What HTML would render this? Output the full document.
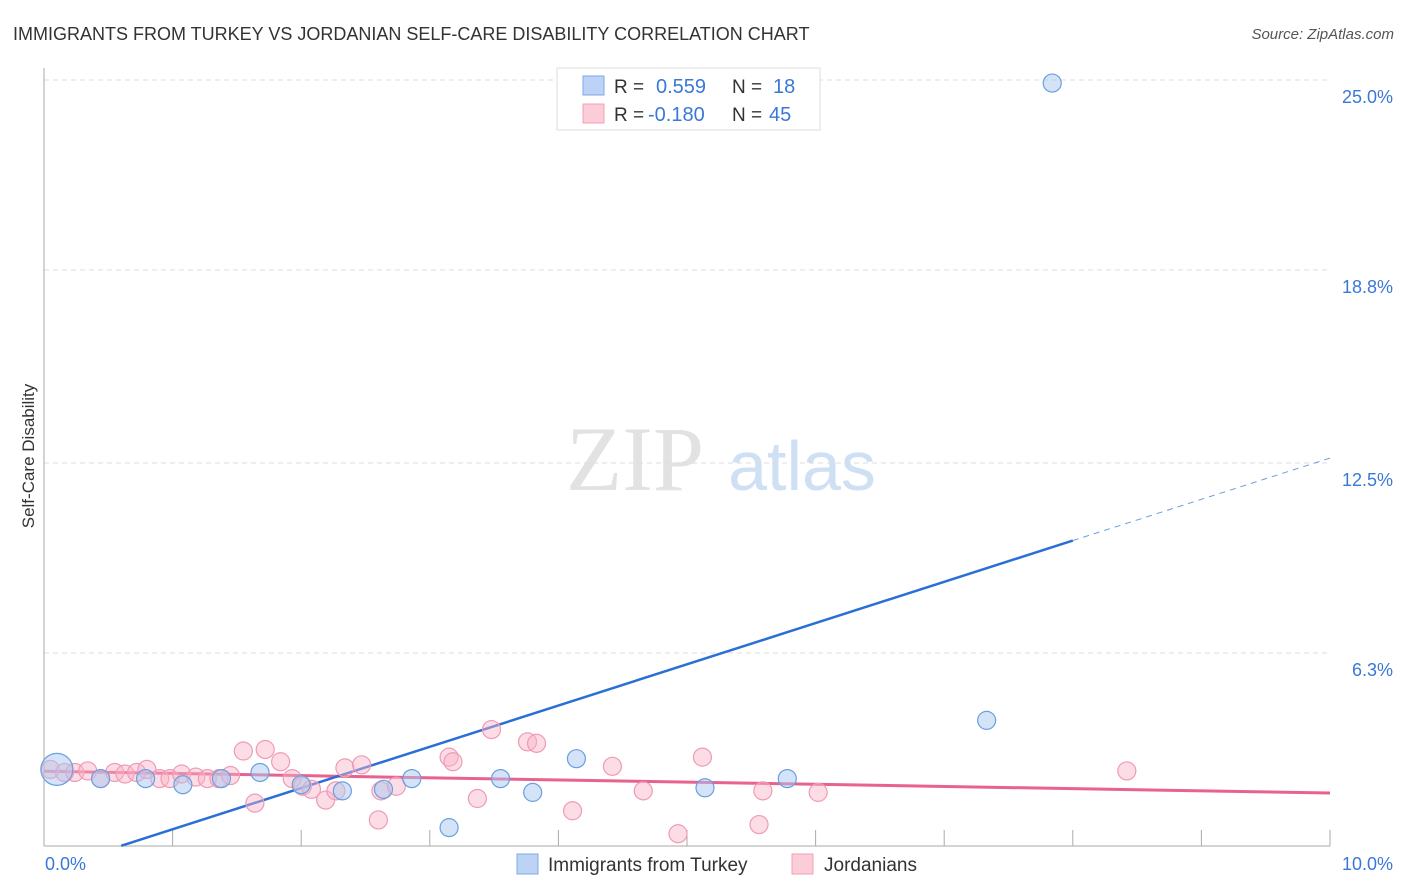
<!DOCTYPE html>
<html><head><meta charset="utf-8"><style>
body{margin:0;background:#fff;font-family:"Liberation Sans",sans-serif;}
svg{display:block}
</style></head><body>
<svg id="chart" width="1406" height="892" viewBox="0 0 1406 892" xmlns="http://www.w3.org/2000/svg">
<text x="13" y="40" font-size="18" fill="#333">IMMIGRANTS FROM TURKEY VS JORDANIAN SELF-CARE DISABILITY CORRELATION CHART</text>
<text x="1394" y="39" font-size="15" fill="#555" font-style="italic" text-anchor="end">Source: ZipAtlas.com</text>
<text transform="translate(34,456) rotate(-90)" font-size="17" fill="#333" text-anchor="middle">Self-Care Disability</text>
<g>
<text x="635" y="490" font-size="92" font-family="Liberation Serif,serif" fill="#e2e2e2" text-anchor="middle">ZIP</text>
<text x="802" y="490" font-size="70" fill="#cfe0f5" text-anchor="middle">atlas</text>
</g>
<g id="grid"></g><g id="axes"></g><g id="lines"></g><g id="pts"></g>
<g>
<rect x="557" y="68" width="263" height="62" fill="#fff" stroke="#ddd"/>
<rect x="583" y="76" width="21" height="19" fill="#bcd3f5" stroke="#7ea8e6"/>
<rect x="583" y="104" width="21" height="19" fill="#fcccd9" stroke="#f0a0b8"/>
<text x="614" y="93" font-size="19" fill="#333">R =</text><text x="656" y="93" font-size="20" fill="#3a78d8">0.559</text>
<text x="732" y="93" font-size="19" fill="#333">N =</text><text x="773" y="93" font-size="20" fill="#3a78d8">18</text>
<text x="614" y="121" font-size="19" fill="#333">R =</text><text x="648" y="121" font-size="20" fill="#3a78d8">-0.180</text>
<text x="732" y="121" font-size="19" fill="#333">N =</text><text x="769" y="121" font-size="20" fill="#3a78d8">45</text>
</g>
<g>
<rect x="517" y="854" width="21" height="20" fill="#bcd3f5" stroke="#7ea8e6"/>
<text x="548" y="871" font-size="19" fill="#333">Immigrants from Turkey</text>
<rect x="792" y="854" width="21" height="20" fill="#fcccd9" stroke="#f0a0b8"/>
<text x="824" y="871" font-size="19" fill="#333">Jordanians</text>
</g>
</svg>
<script>
const yTicks=[25.0,18.8,12.5,6.3];
const yTickLabels=["25.0%","18.8%","12.5%","6.3%"];
const xTickLabels=["0.0%","10.0%"];
const turkeyX=[0.10,0.44,0.79,1.08,1.38,1.68,2.0,2.32,2.64,2.86,3.15,3.55,3.80,4.14,5.14,5.78,7.33,7.84];
const turkeyY=[2.5,2.2,2.2,2.0,2.2,2.4,2.0,1.8,1.85,2.2,0.6,2.2,1.75,2.85,1.9,2.2,4.1,24.9];
const jordX=[0.05,0.16,0.24,0.34,0.44,0.55,0.63,0.72,0.80,0.90,0.98,1.07,1.18,1.27,1.36,1.45,1.55,1.64,1.72,1.84,1.93,2.01,2.08,2.19,2.27,2.34,2.47,2.60,2.62,2.74,3.15,3.18,3.37,3.48,3.76,3.83,4.11,4.42,4.66,4.93,5.12,5.56,5.59,6.02,8.42];
const jordY=[2.5,2.4,2.4,2.45,2.2,2.4,2.35,2.4,2.5,2.2,2.2,2.35,2.25,2.2,2.2,2.3,3.1,1.4,3.15,2.75,2.2,1.95,1.85,1.5,1.8,2.55,2.65,0.85,1.8,1.95,2.9,2.75,1.55,3.8,3.4,3.35,1.15,2.6,1.8,0.4,2.9,0.7,1.8,1.75,2.45];
const turkeyBig=[1,0,0,0,0,0,0,0,0,0,0,0,0,0,0,0,0,0];
const blueLine=[-0.8,12.66];
const pinkLine=[2.44,1.73];
const X0=44,X1=1330,Y0=846,Y1=80;
const sx=v=>X0+(X1-X0)*v/10;
const sy=v=>Y0-(Y0-Y1)*v/25;
const NS="http://www.w3.org/2000/svg";
function mk(tag,attrs,parent){const e=document.createElementNS(NS,tag);for(const k in attrs)e.setAttribute(k,attrs[k]);document.getElementById(parent).appendChild(e);return e;}
yTicks.forEach((t,i)=>{
 const g=mk('line',{x1:X0,x2:X1,y1:sy(t),y2:sy(t),stroke:'#ddd','stroke-dasharray':'5,4'},'grid');
 
 
 const l=mk('text',{x:1393,y:sy(t)+23,'font-size':18,fill:'#3a78d8','text-anchor':'end'},'grid');
 l.textContent=yTickLabels[i];
 
 
});
const ya=mk('line',{x1:X0,x2:X0,y1:68,y2:Y0,stroke:'#aaa'},'axes');


const xa=mk('line',{x1:X0,x2:X1,y1:Y0,y2:Y0,stroke:'#aaa'},'axes');


for(let i=1;i<=10;i++){
 const t=mk('line',{x1:sx(i),x2:sx(i),y1:Y0-16,y2:Y0,stroke:'#aaa'},'axes');
 
 
}
xTickLabels.forEach((s,i)=>{
 const l=mk('text',{x:i?1393:45,y:870,'font-size':18,fill:'#3a78d8','text-anchor':i?'end':'start'},'axes');
 l.textContent=s;
 
 
});
const pl=mk('line',{x1:sx(0),y1:sy(pinkLine[0]),x2:sx(10),y2:sy(pinkLine[1]),stroke:'#e8628e','stroke-width':3},'lines');


const bx0=0.6,bx1=8.0;
const by=x=>blueLine[0]+(blueLine[1]-blueLine[0])*x/10;
const bl=mk('line',{x1:sx(bx0),y1:sy(by(bx0)),x2:sx(bx1),y2:sy(by(bx1)),stroke:'#2a6fd6','stroke-width':2.5},'lines');


const bd=mk('line',{x1:sx(bx1),y1:sy(by(bx1)),x2:sx(10),y2:sy(by(10)),stroke:'#6a9fe0','stroke-width':1,'stroke-dasharray':'6,5'},'lines');


jordX.forEach((x,i)=>{
 const c=mk('circle',{cx:sx(x),cy:sy(jordY[i]),r:9,fill:'rgba(248,180,200,0.45)',stroke:'#f09ab5','stroke-width':1.2},'pts');
 
 
});
turkeyX.forEach((x,i)=>{
 const c=mk('circle',{cx:sx(x),cy:sy(turkeyY[i]),r:turkeyBig[i]?16:9,fill:'rgba(170,200,240,0.5)',stroke:'#6a9fe0','stroke-width':1.2},'pts');
 
 
});
</script>
</body></html>
